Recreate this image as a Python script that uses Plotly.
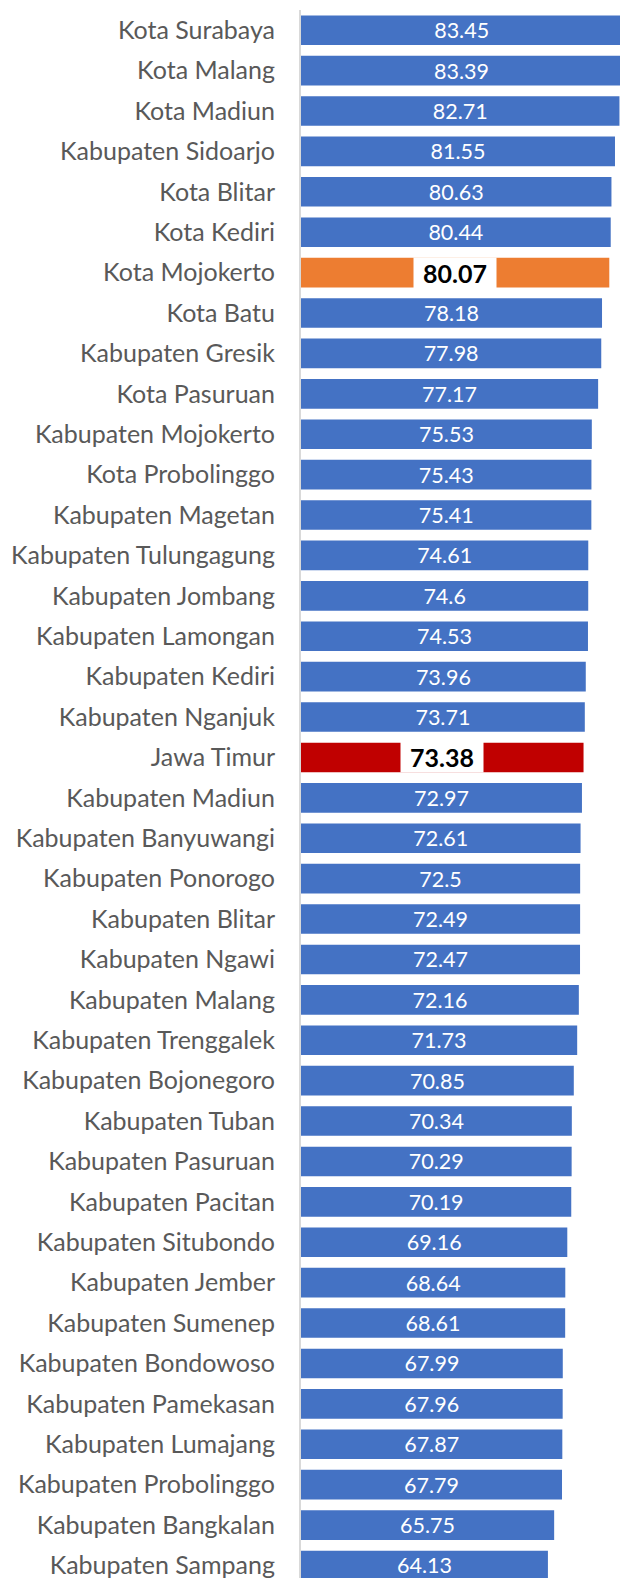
import plotly.graph_objects as go

regions = [
    "Kota Surabaya", "Kota Malang", "Kota Madiun", "Kabupaten Sidoarjo", "Kota Blitar",
    "Kota Kediri", "Kota Mojokerto", "Kota Batu", "Kabupaten Gresik", "Kota Pasuruan",
    "Kabupaten Mojokerto", "Kota Probolinggo", "Kabupaten Magetan", "Kabupaten Tulungagung",
    "Kabupaten Jombang", "Kabupaten Lamongan", "Kabupaten Kediri", "Kabupaten Nganjuk",
    "Jawa Timur", "Kabupaten Madiun", "Kabupaten Banyuwangi", "Kabupaten Ponorogo",
    "Kabupaten Blitar", "Kabupaten Ngawi", "Kabupaten Malang", "Kabupaten Trenggalek",
    "Kabupaten Bojonegoro", "Kabupaten Tuban", "Kabupaten Pasuruan", "Kabupaten Pacitan",
    "Kabupaten Situbondo", "Kabupaten Jember", "Kabupaten Sumenep", "Kabupaten Bondowoso",
    "Kabupaten Pamekasan", "Kabupaten Lumajang", "Kabupaten Probolinggo",
    "Kabupaten Bangkalan", "Kabupaten Sampang",
]
ipm = [
    83.45, 83.39, 82.71, 81.55, 80.63, 80.44, 80.07, 78.18, 77.98, 77.17,
    75.53, 75.43, 75.41, 74.61, 74.6, 74.53, 73.96, 73.71, 73.38, 72.97,
    72.61, 72.5, 72.49, 72.47, 72.16, 71.73, 70.85, 70.34, 70.29, 70.19,
    69.16, 68.64, 68.61, 67.99, 67.96, 67.87, 67.79, 65.75, 64.13,
]
highlight = {"Kota Mojokerto": "#ED7D31", "Jawa Timur": "#C00000"}

FONT = "Lato, 'Open Sans', sans-serif"
BLUE = "#4472C4"

colors = [highlight.get(name, BLUE) for name in regions]
labels = ["" if name in highlight else f"{value:g}" for name, value in zip(regions, ipm)]

fig = go.Figure(
    go.Bar(
        x=ipm,
        y=regions,
        orientation="h",
        marker=dict(color=colors, line=dict(width=0)),
        width=0.733,
        text=labels,
        textposition="inside",
        insidetextanchor="middle",
        textangle=0,
        constraintext="none",
        textfont=dict(family=FONT, size=21.5, color="white"),
        hoverinfo="skip",
    )
)

# highlighted bars: bold black value on a white box
for name in highlight:
    value = ipm[regions.index(name)]
    fig.add_annotation(
        x=value / 2,
        y=name,
        text=f"<b>{value:g}</b>",
        showarrow=False,
        font=dict(family=FONT, size=25, color="black"),
        bgcolor="white",
        width=82,
        height=30,
        borderpad=0,
    )

fig.update_layout(
    width=620,
    height=1578,
    margin=dict(l=301, r=0, t=10, b=0),
    plot_bgcolor="white",
    paper_bgcolor="white",
    showlegend=False,
    hovermode=False,
    xaxis=dict(range=[0, 82.85], visible=False, fixedrange=True),
    yaxis=dict(
        categoryorder="array",
        categoryarray=regions,
        range=[38.31, -0.5],
        fixedrange=True,
        showgrid=False,
        showline=True,
        linecolor="#d9d9d9",
        linewidth=2,
        ticks="outside",
        ticklen=19,
        tickcolor="rgba(0,0,0,0)",
        tickfont=dict(family=FONT, size=25, color="#595959"),
    ),
)

# drop the default page margin so the 620x1578 figure fills the window
fig.write_html(
    "out.html",
    config={"displayModeBar": False},
    post_script="document.body.style.margin = '0';",
)
